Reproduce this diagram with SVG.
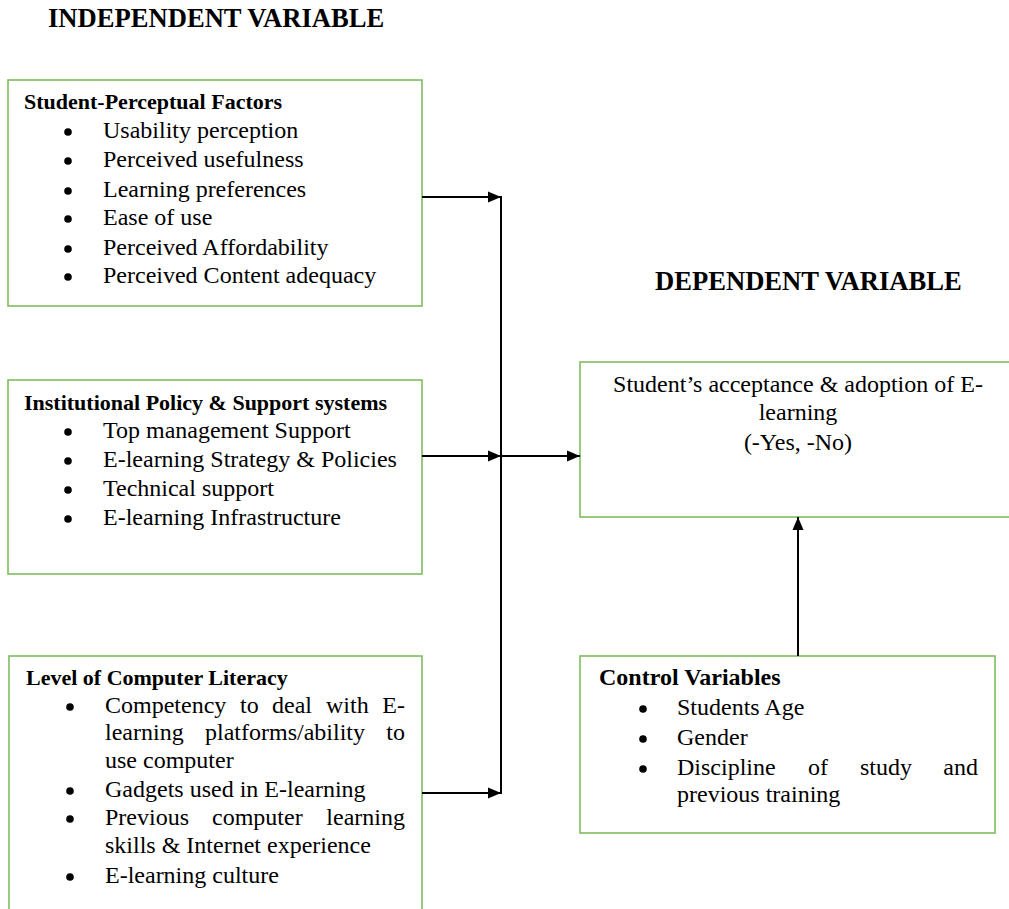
<svg xmlns="http://www.w3.org/2000/svg" width="1009" height="909" viewBox="0 0 1009 909">
<defs>
<style>
.box{fill:#fff;stroke:#80bc5c;stroke-width:1.6}
text{font-family:"Liberation Serif","Times New Roman",serif;fill:#000}
.t{font-size:26.6px;font-weight:bold}
.h{font-size:22px;font-weight:bold}
.hc{font-size:24px;font-weight:bold}
.b{font-size:24px}
.d{fill:#000}
.c{stroke:#000;stroke-width:2;fill:none}
</style>
<marker id="ah" markerUnits="userSpaceOnUse" markerWidth="14" markerHeight="12" refX="13" refY="6" orient="auto">
<path d="M0,0.5 L13,6 L0,11.5 z" fill="#000"/>
</marker>
</defs>
<rect width="1009" height="909" fill="#fff"/>
<text class="t" x="48" y="27">INDEPENDENT VARIABLE</text>
<text class="t" x="655" y="290">DEPENDENT VARIABLE</text>

<g id="student-perceptual">
<rect class="box" x="8" y="80" width="414" height="226"/>
<text class="h" x="24" y="109">Student-Perceptual Factors</text>
<g class="d"><circle cx="68" cy="132" r="3.8"/><circle cx="68" cy="161" r="3.8"/><circle cx="68" cy="191" r="3.8"/><circle cx="68" cy="219" r="3.8"/><circle cx="68" cy="249" r="3.8"/><circle cx="68" cy="277" r="3.8"/></g>
<text class="b"><tspan x="103" y="138">Usability perception</tspan><tspan x="103" y="167">Perceived usefulness</tspan><tspan x="103" y="197">Learning preferences</tspan><tspan x="103" y="225">Ease of use</tspan><tspan x="103" y="255">Perceived Affordability</tspan><tspan x="103" y="283">Perceived Content adequacy</tspan></text>
</g>

<g id="institutional">
<rect class="box" x="8" y="380" width="414" height="194"/>
<text class="h" x="24" y="410">Institutional Policy &amp; Support systems</text>
<g class="d"><circle cx="68" cy="432" r="3.8"/><circle cx="68" cy="461" r="3.8"/><circle cx="68" cy="490" r="3.8"/><circle cx="68" cy="519" r="3.8"/></g>
<text class="b"><tspan x="103" y="438">Top management Support</tspan><tspan x="103" y="467">E-learning Strategy &amp; Policies</tspan><tspan x="103" y="496">Technical support</tspan><tspan x="103" y="525">E-learning Infrastructure</tspan></text>
</g>

<g id="computer-literacy">
<rect class="box" x="9" y="656" width="413" height="270"/>
<text class="h" x="26" y="685">Level of Computer Literacy</text>
<g class="d"><circle cx="70" cy="707" r="3.8"/><circle cx="70" cy="791" r="3.8"/><circle cx="70" cy="819" r="3.8"/><circle cx="70" cy="877" r="3.8"/></g>
<text class="b"><tspan x="105" y="713">Competency</tspan><tspan x="240" y="713">to</tspan><tspan x="272" y="713">deal</tspan><tspan x="326" y="713">with</tspan><tspan x="405" y="713" text-anchor="end">E-</tspan></text>
<text class="b"><tspan x="105" y="740">learning</tspan><tspan x="205" y="740">platforms/ability</tspan><tspan x="405" y="740" text-anchor="end">to</tspan></text>
<text class="b" x="105" y="768">use computer</text>
<text class="b" x="105" y="797">Gadgets used in E-learning</text>
<text class="b"><tspan x="105" y="825">Previous</tspan><tspan x="212" y="825">computer</tspan><tspan x="405" y="825" text-anchor="end">learning</tspan></text>
<text class="b" x="105" y="853">skills &amp; Internet experience</text>
<text class="b" x="105" y="883">E-learning culture</text>
</g>

<g id="dependent">
<rect class="box" x="580" y="362" width="440" height="155"/>
<text class="b" text-anchor="middle"><tspan x="798" y="392">Student’s acceptance &amp; adoption of E-</tspan><tspan x="798" y="420">learning</tspan><tspan x="798" y="450">(-Yes, -No)</tspan></text>
</g>

<g id="control">
<rect class="box" x="580" y="656" width="415" height="177"/>
<text class="hc" x="599" y="685">Control Variables</text>
<g class="d"><circle cx="643" cy="709" r="3.8"/><circle cx="643" cy="739" r="3.8"/><circle cx="643" cy="769" r="3.8"/></g>
<text class="b" x="677" y="715">Students Age</text>
<text class="b" x="677" y="745">Gender</text>
<text class="b"><tspan x="677" y="775">Discipline</tspan><tspan x="808" y="775">of</tspan><tspan x="860" y="775">study</tspan><tspan x="978" y="775" text-anchor="end">and</tspan></text>
<text class="b" x="677" y="802">previous training</text>
</g>

<g id="connectors">
<line class="c" x1="422" y1="197" x2="501" y2="197" marker-end="url(#ah)"/>
<line class="c" x1="422" y1="456" x2="501" y2="456" marker-end="url(#ah)"/>
<line class="c" x1="422" y1="793" x2="501" y2="793" marker-end="url(#ah)"/>
<line class="c" x1="501" y1="196" x2="501" y2="794"/>
<line class="c" x1="501" y1="456" x2="580" y2="456" marker-end="url(#ah)"/>
<line class="c" x1="798" y1="656" x2="798" y2="517" marker-end="url(#ah)"/>
</g>
</svg>
